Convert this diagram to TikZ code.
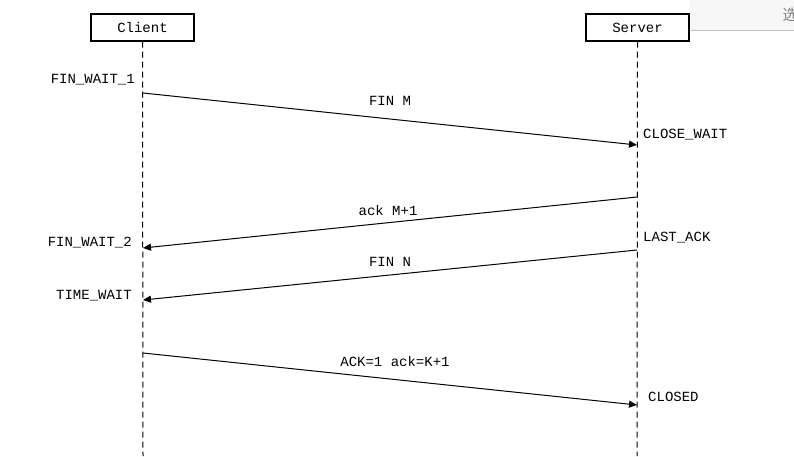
\documentclass[tikz,border=0pt]{standalone}
\usepackage{fontspec}
\setmainfont{Liberation Mono}
\newfontfamily\cjk{Noto Sans CJK SC}
\usetikzlibrary{arrows.meta}
\begin{document}
\begin{tikzpicture}[x=1pt,y=-1pt,
  box/.style={draw,line width=1.3pt,minimum width=103pt,minimum height=27pt,inner sep=0pt,font=\fontsize{14}{14}\selectfont},
  lbl/.style={font=\fontsize{14}{14}\selectfont,inner sep=1pt},
  life/.style={line width=1pt,dash pattern=on 6pt off 4pt},
  msg/.style={-{Triangle[length=8pt,width=7pt]},line width=1pt}]
\useasboundingbox (0,0) rectangle (794,456);
\fill[white] (0,0) rectangle (794,456);
\begin{scope}
\clip (0,0) rectangle (794,456);
\fill[gray!6] (690,0) rectangle (800,30);
\draw[gray!50] (690,30) -- (800,30);
\node[font=\cjk\fontsize{15}{15}\selectfont,text=gray,anchor=west] (sel) at (779,15) {选};
\end{scope}
\node[box] (client) at (142.5,27.5) {Client};
\node[box] (server) at (637.5,27.5) {Server};
\coordinate (cb) at (143,456);
\coordinate (sb) at (637,456);
\draw[life] (client.south) -- (cb);
\draw[life] (server.south) -- (sb);
\coordinate (c1) at (143,93); \coordinate (s1) at (637,145);
\coordinate (s2) at (637,197); \coordinate (c2) at (143,248);
\coordinate (s3) at (637,250); \coordinate (c3) at (143,300);
\coordinate (c4) at (143,353); \coordinate (s4) at (637,405);
\draw[msg] (c1) -- (s1);
\draw[msg] (s2) -- (c2);
\draw[msg] (s3) -- (c3);
\draw[msg] (c4) -- (s4);
\node[lbl] (m1) at (390,101) {FIN M};
\node[lbl] (m2) at (388,210) {ack M+1};
\node[lbl] (m3) at (390,262) {FIN N};
\node[lbl] (m4) at (395,361) {ACK=1 ack=K+1};
\node[lbl,anchor=east] (fw1) at (136,80) {FIN\_WAIT\_1};
\node[lbl,anchor=east] (fw2) at (133,243) {FIN\_WAIT\_2};
\node[lbl,anchor=east] (tw) at (133,296) {TIME\_WAIT};
\node[lbl,anchor=west] (cw) at (642,135) {CLOSE\_WAIT};
\node[lbl,anchor=west] (la) at (642,238) {LAST\_ACK};
\node[lbl,anchor=west] (cl) at (647,397) {CLOSED};
\end{tikzpicture}
\end{document}
